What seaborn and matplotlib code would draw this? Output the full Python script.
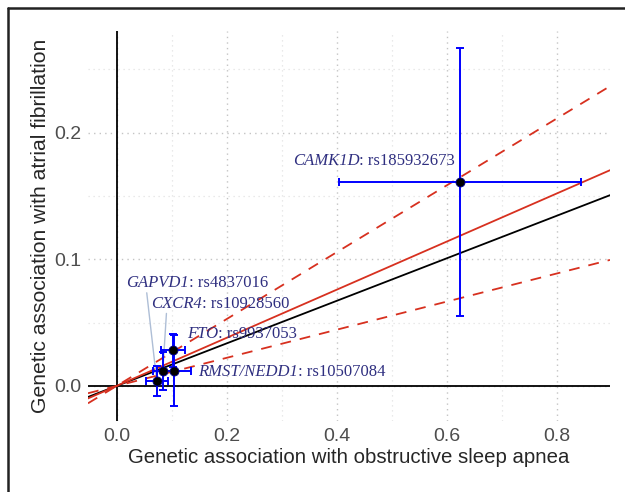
import seaborn as sns
import matplotlib
matplotlib.use("Agg")
import matplotlib.pyplot as plt
from matplotlib.lines import Line2D
from matplotlib.ticker import MultipleLocator
import pandas as pd

# SNP-level estimates
genes = ["CAMK1D", "GAPVD1", "CXCR4", "FTO", "RMST/NEDD1"]
snps = ["rs185932673", "rs4837016", "rs10928560", "rs9937053", "rs10507084"]
beta_osa = [0.625, 0.073, 0.084, 0.103, 0.105]
se_osa = [0.220, 0.020, 0.018, 0.022, 0.031]
beta_af = [0.161, 0.004, 0.012, 0.028, 0.012]
se_af = [0.106, 0.012, 0.015, 0.013, 0.028]

# fitted slopes (lines through origin)
slope_ivw = 0.168
slope_fit = 0.190
slope_lo = 0.111
slope_hi = 0.264

# label placement (data coords, left/center anchored) and leader line start
label_pos = [(0.320, 0.178), (0.018, 0.081), (0.063, 0.0647), (0.128, 0.041), (0.148, 0.011)]
leader_rel = [None, (0.32, 0.0), (0.3, 0.0), None, None]

df = pd.DataFrame({"gene": genes, "snp": snps, "bx": beta_osa, "sx": se_osa,
                   "by": beta_af, "sy": se_af})

sns.set_style("white")
plt.rcParams["font.family"] = ["Liberation Sans", "DejaVu Sans"]

fig = plt.figure(figsize=(6.25, 4.92), dpi=100)
ax = fig.add_axes([88 / 625, 1 - 421 / 492, (610 - 88) / 625, (421 - 31) / 492])

ax.set_xlim(-0.052, 0.897)
ax.set_ylim(-0.0277, 0.2804)
ax.xaxis.set_major_locator(MultipleLocator(0.2))
ax.xaxis.set_minor_locator(MultipleLocator(0.1))
ax.yaxis.set_major_locator(MultipleLocator(0.1))
ax.yaxis.set_minor_locator(MultipleLocator(0.05))
ax.grid(which="major", linestyle=(0, (1, 3)), color="#c4c4c4", linewidth=1.0)
ax.grid(which="minor", linestyle=(0, (1, 3)), color="#e2e2e2", linewidth=0.9)
ax.set_axisbelow(True)
sns.despine(ax=ax, left=True, bottom=True)

ax.axhline(0, color="black", lw=1.3, zorder=1)
ax.axvline(0, color="black", lw=1.3, zorder=1)

ax.axline((0, 0), slope=slope_ivw, color="black", lw=1.3, zorder=2)
ax.axline((0, 0), slope=slope_fit, color="#d7301f", lw=1.3, zorder=2)
ax.axline((0, 0), slope=slope_lo, color="#d7301f", lw=1.3, ls=(0, (6, 5)), zorder=2)
ax.axline((0, 0), slope=slope_hi, color="#d7301f", lw=1.3, ls=(0, (6, 5)), zorder=2)

ax.errorbar(df["bx"], df["by"], xerr=df["sx"], yerr=df["sy"], fmt="none",
            ecolor="#0000ff", elinewidth=1.4, capsize=3, capthick=1.4, zorder=3)
sns.scatterplot(data=df, x="bx", y="by", color="black", s=42, edgecolor="#00008b",
                linewidth=0.6, ax=ax, zorder=4)

lab_color = "#2f2f80"
for i, row in df.iterrows():
    t1 = ax.annotate(row["gene"], xy=label_pos[i], ha="left", va="center", fontsize=12,
                     color=lab_color, style="italic", fontfamily="Liberation Serif", zorder=5)
    ax.annotate(": " + row["snp"], xy=(1, 0.5), xycoords=t1, ha="left", va="center",
                fontsize=12, color=lab_color, fontfamily="Liberation Serif", zorder=5)
    if leader_rel[i] is not None:
        ax.annotate("", xy=(row["bx"], row["by"]), xytext=leader_rel[i], textcoords=t1,
                    arrowprops=dict(arrowstyle="-", color="#aebed6", lw=1.0,
                                    shrinkA=1, shrinkB=4), zorder=2.5)

ax.tick_params(axis="both", which="major", length=3, width=1, color="#4d4d4d",
               labelcolor="#4d4d4d", labelsize=14, pad=2)
ax.tick_params(axis="both", which="minor", length=0)
ax.set_xticks([0.0, 0.2, 0.4, 0.6, 0.8])
ax.set_yticks([0.0, 0.1, 0.2])
ax.set_xlabel("Genetic association with obstructive sleep apnea", fontsize=14.7, labelpad=2)
ax.set_ylabel("Genetic association with atrial fibrillation", fontsize=15.2, labelpad=3)

# outer frame (left and top edges)
fig.add_artist(Line2D([8 / 625, 8 / 625], [0, 1 - 8 / 492], color="#222222", lw=1.8,
                      transform=fig.transFigure))
fig.add_artist(Line2D([8 / 625, 1], [1 - 8 / 492, 1 - 8 / 492], color="#222222", lw=1.8,
                      transform=fig.transFigure))

plt.savefig("out.png", dpi=100)
plt.close()
